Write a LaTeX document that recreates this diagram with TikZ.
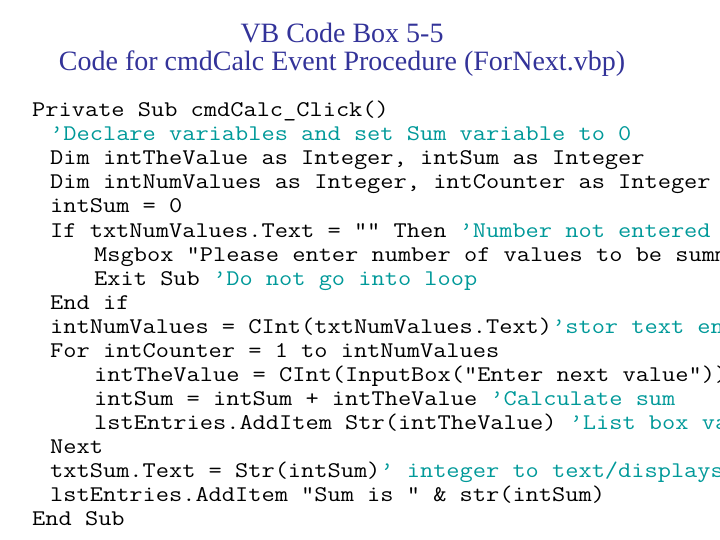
\documentclass[tikz,border=0pt]{standalone}
\usepackage{fontspec}
\setmainfont{Liberation Serif}
\definecolor{ttl}{RGB}{51,51,153}
\definecolor{cmt}{RGB}{0,153,153}
\begin{document}
\begin{tikzpicture}[x=1pt,y=1pt,
  ttlstyle/.style={font=\fontsize{28}{28}\selectfont, text=ttl, inner sep=0pt},
  code/.style={font=\fontsize{22.4}{22}\ttfamily, anchor=base west, inner sep=0pt, xscale=1.145}]
\useasboundingbox (0,0) rectangle (720,-540);
\newcommand{\cm}[1]{\textcolor{cmt}{#1}}
\node[ttlstyle] (t1) at (342,-33) {VB Code Box 5-5};
\node[ttlstyle] (t2) at (342,-64) {Code for cmdCalc Event Procedure (ForNext.vbp)};
\node[code] (l1) at (32,-117) {Private Sub cmdCalc\_Click()};
\node[code] (l2) at (50,-141) {\cm{’Declare variables and set Sum variable to 0}};
\node[code] (l3) at (50,-165) {Dim intTheValue as Integer, intSum as Integer};
\node[code] (l4) at (50,-189) {Dim intNumValues as Integer, intCounter as Integer};
\node[code] (l5) at (50,-213) {intSum = 0};
\node[code] (l6) at (50,-237) {If txtNumValues.Text = "" Then \cm{’Number not entered}};
\node[code] (l7) at (94,-261) {Msgbox "Please enter number of values to be summed"};
\node[code] (l8) at (94,-285) {Exit Sub \cm{’Do not go into loop}};
\node[code] (l9) at (50,-309) {End if};
\node[code] (l10) at (50,-333) {intNumValues = CInt(txtNumValues.Text)\cm{’stor text entry}};
\node[code] (l11) at (50,-357) {For intCounter = 1 to intNumValues};
\node[code] (l12) at (94,-381) {intTheValue = CInt(InputBox("Enter next value"))};
\node[code] (l13) at (94,-405) {intSum = intSum + intTheValue \cm{’Calculate sum}};
\node[code] (l14) at (94,-429) {lstEntries.AddItem Str(intTheValue) \cm{’List box value}};
\node[code] (l15) at (50,-453) {Next};
\node[code] (l16) at (50,-477) {txtSum.Text = Str(intSum)\cm{’ integer to text/displays sum}};
\node[code] (l17) at (50,-501) {lstEntries.AddItem "Sum is " \& str(intSum)};
\node[code] (l18) at (32,-525) {End Sub};
\end{tikzpicture}
\end{document}
